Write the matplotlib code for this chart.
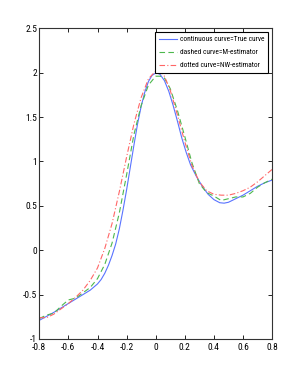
import matplotlib
matplotlib.use("Agg")
import matplotlib.pyplot as plt
from matplotlib import font_manager as fm

# Data
x_true = [-0.80, -0.70, -0.60, -0.50, -0.45, -0.40, -0.375, -0.35, -0.325, -0.30, -0.275, -0.25,
          -0.225, -0.20, -0.175, -0.15, -0.125, -0.10, -0.075, -0.05, -0.025, 0.005, 0.03, 0.06,
          0.09, 0.12, 0.15, 0.18, 0.21, 0.24, 0.28, 0.32, 0.36, 0.40, 0.44, 0.47, 0.50, 0.55,
          0.60, 0.65, 0.70, 0.75, 0.80]
y_true = [-0.79, -0.70, -0.60, -0.50, -0.45, -0.38, -0.33, -0.26, -0.17, -0.06, 0.07, 0.24,
          0.45, 0.68, 0.93, 1.18, 1.42, 1.62, 1.78, 1.90, 1.97, 2.00, 1.98, 1.91,
          1.79, 1.63, 1.45, 1.26, 1.10, 0.96, 0.83, 0.72, 0.63, 0.57, 0.535, 0.53, 0.54, 0.58,
          0.62, 0.67, 0.72, 0.76, 0.79]

x_m = [-0.80, -0.75, -0.70, -0.65, -0.60, -0.55, -0.50, -0.45, -0.40, -0.35, -0.30, -0.25, -0.20,
       -0.15, -0.10, -0.05, 0.00, 0.03, 0.06, 0.10, 0.15, 0.20, 0.25, 0.30, 0.35, 0.40, 0.45,
       0.50, 0.55, 0.60, 0.65, 0.70, 0.75, 0.80]
y_m = [-0.77, -0.73, -0.71, -0.63, -0.56, -0.54, -0.48, -0.42, -0.32, -0.16, 0.08, 0.42, 0.85,
       1.30, 1.63, 1.86, 1.96, 1.96, 1.94, 1.82, 1.57, 1.28, 0.98, 0.75, 0.65, 0.61, 0.56,
       0.58, 0.60, 0.60, 0.64, 0.71, 0.76, 0.80]

x_nw = [-0.80, -0.75, -0.70, -0.65, -0.60, -0.55, -0.50, -0.45, -0.40, -0.35, -0.30, -0.25, -0.20,
        -0.15, -0.10, -0.05, 0.00, 0.03, 0.06, 0.10, 0.15, 0.20, 0.25, 0.30, 0.35, 0.40, 0.45,
        0.50, 0.55, 0.60, 0.65, 0.70, 0.75, 0.80]
y_nw = [-0.76, -0.76, -0.72, -0.66, -0.60, -0.53, -0.45, -0.34, -0.20, 0.02, 0.30, 0.66, 1.05,
        1.42, 1.72, 1.93, 2.02, 2.01, 1.96, 1.80, 1.52, 1.22, 0.95, 0.77, 0.67, 0.63, 0.62,
        0.62, 0.64, 0.67, 0.71, 0.77, 0.84, 0.91]

labels = ["continuous curve=True curve", "dashed curve=M-estimator", "dotted curve=NW-estimator"]

xticks = [-0.8, -0.6, -0.4, -0.2, 0, 0.2, 0.4, 0.6, 0.8]
xticklabels = ["-0.8", "-0.6", "-0.4", "-0.2", "0", "0.2", "0.4", "0.6", "0.8"]
yticks = [-1, -0.5, 0, 0.5, 1, 1.5, 2, 2.5]
yticklabels = ["-1", "-0.5", "0", "0.5", "1", "1.5", "2", "2.5"]

# pick a narrow sans face if one is installed
prefs = ['Liberation Sans Narrow', 'Roboto Condensed', 'Open Sans Condensed', 'DejaVu Sans',
         'Noto Sans', 'Open Sans']
narrow = None
best = len(prefs)
for f in fm.fontManager.ttflist:
    if f.style != 'normal' or f.weight not in (400, 'normal', 'regular'):
        continue
    low = f.fname.lower()
    if 'serif' in low or 'mono' in low or 'bold' in low or 'italic' in low or 'oblique' in low:
        continue
    cond = ('Narrow' in f.name) or ('Condensed' in f.name) or ('condensed' in str(f.stretch)) \
        or ('condensed' in low) or ('narrow' in low)
    if not cond:
        continue
    for i, p in enumerate(prefs):
        if f.name.startswith(p.split()[0]) and i < best:
            best = i
            narrow = f.fname
            break
if narrow:
    fprop = fm.FontProperties(fname=narrow)
else:
    fprop = fm.FontProperties(family=['Liberation Sans', 'DejaVu Sans'])

plt.rcParams['axes.unicode_minus'] = False

fig = plt.figure(figsize=(3.0, 3.82), dpi=100)
ax = fig.add_axes([0.131, 0.1126, 0.776, 0.8134])

ax.plot(x_true, y_true, color=(0.35, 0.45, 1.0), lw=0.8, ls='-', label=labels[0])
ax.plot(x_m, y_m, color=(0.3, 0.72, 0.3), lw=0.8, ls=(0, (5, 3)), label=labels[1])
ax.plot(x_nw, y_nw, color=(1.0, 0.4, 0.4), lw=0.8, ls=(0, (5, 2, 1, 2)), label=labels[2])

ax.set_xlim(-0.8, 0.8)
ax.set_ylim(-1, 2.5)
ax.set_xticks(xticks)
ax.set_xticklabels(xticklabels)
ax.set_yticks(yticks)
ax.set_yticklabels(yticklabels)
ax.tick_params(direction='in', length=3, width=0.6, top=True, right=True, pad=1.5, colors='black')
ax.tick_params(axis='x', pad=3.0)
tick_fp = fprop.copy()
tick_fp.set_size(6.8 if narrow else 6.6)
for lab in ax.get_xticklabels() + ax.get_yticklabels():
    lab.set_fontproperties(tick_fp)
for s in ax.spines.values():
    s.set_linewidth(0.8)
    s.set_color('#333333')

leg_fp = fprop.copy()
leg_fp.set_size(5.3 if narrow else 4.8)
leg = ax.legend(loc='upper right', prop=leg_fp, frameon=True, fancybox=False, framealpha=1,
                edgecolor='black', handlelength=2.4, handletextpad=0.4, borderpad=0.55,
                labelspacing=0.8, borderaxespad=0.5)
leg.get_frame().set_linewidth(0.8)

fig.savefig("out.png", dpi=100)
